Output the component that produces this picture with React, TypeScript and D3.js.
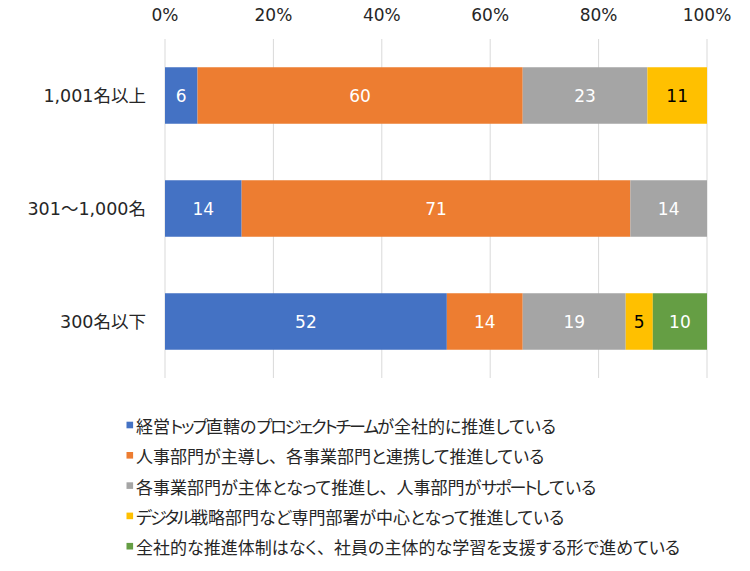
import React from "react";
import * as d3 from "d3";

const categories = ["1,001名以上", "301～1,000名", "300名以下"];
const seriesNames = [
  "経営トップ直轄のプロジェクトチームが全社的に推進している",
  "人事部門が主導し、各事業部門と連携して推進している",
  "各事業部門が主体となって推進し、人事部門がサポートしている",
  "デジタル戦略部門など専門部署が中心となって推進している",
  "全社的な推進体制はなく、社員の主体的な学習を支援する形で進めている",
];
const s1 = [6, 14, 52];
const s2 = [60, 71, 14];
const s3 = [23, 14, 19];
const s4 = [11, 0, 5];
const s5 = [0, 0, 10];
const seriesValues = [s1, s2, s3, s4, s5];
const colors = ["#4472C4", "#ED7D31", "#A5A5A5", "#FFC000", "#659E44"];
const labelColors = ["#fff", "#fff", "#fff", "#000", "#fff"];
const ticks = [0, 0.2, 0.4, 0.6, 0.8, 1];

const W = 750;
const H = 571;
const CJK = "'Noto Sans CJK JP', 'Noto Sans', sans-serif";
const MIXED = "'DejaVu Sans', 'Noto Sans CJK JP', sans-serif";

// split a legend string into katakana / punctuation / other runs for spacing
function runs(s: string) {
  const out: { t: string; k: string }[] = [];
  const re = /([\u30A0-\u30FF]+)|([、。])|([^\u30A0-\u30FF、。]+)/g;
  let m: RegExpExecArray | null;
  while ((m = re.exec(s))) {
    out.push({ t: m[0], k: m[1] ? "kata" : m[2] ? "punct" : "other" });
  }
  return out;
}

export default function App() {
  const rows = categories.map((c, i) => {
    const r: any = { cat: c };
    seriesNames.forEach((s, j) => (r[s] = seriesValues[j][i]));
    return r;
  });
  const stack = d3.stack<any>().keys(seriesNames).offset(d3.stackOffsetExpand);
  const stacked = stack(rows);

  const x = d3.scaleLinear().domain([0, 1]).range([165, 707]);
  const y = d3.scaleBand().domain(categories).range([39, 378]).paddingInner(0.5).paddingOuter(0.25);

  return (
    <svg width={W} height={H} style={{ position: "absolute", left: 0, top: 0 }} fontFamily={CJK}>
      <rect width={W} height={H} fill="#fff" />
      {ticks.map((t) => (
        <g key={t}>
          <line x1={x(t)} x2={x(t)} y1={39} y2={378} stroke="#D9D9D9" strokeWidth={1} />
          <text x={x(t)} y={15} textAnchor="middle" dominantBaseline="central" fontSize={17} fill="#262626" fontFamily={MIXED}>
            {d3.format(".0%")(t)}
          </text>
        </g>
      ))}
      {stacked.map((layer, j) => (
        <g key={j}>
          {layer.map((d, i) => {
            const v = seriesValues[j][i];
            if (!v) return null;
            const x0 = x(d[0]);
            const x1 = x(d[1]);
            const yy = y(categories[i])!;
            return (
              <g key={i}>
                <rect x={x0} y={yy} width={x1 - x0} height={y.bandwidth()} fill={colors[j]} />
                <text
                  x={(x0 + x1) / 2}
                  y={yy + y.bandwidth() / 2}
                  textAnchor="middle"
                  dominantBaseline="central"
                  fontSize={17}
                  fontFamily={MIXED}
                  fill={labelColors[j]}
                >
                  {v}
                </text>
              </g>
            );
          })}
        </g>
      ))}
      {categories.map((c) => (
        <text
          key={c}
          x={146}
          y={y(c)! + y.bandwidth() / 2}
          textAnchor="end"
          dominantBaseline="central"
          fontSize={17.5}
          fontFamily={MIXED}
          fill="#262626"
        >
          {c}
        </text>
      ))}
      {seriesNames.map((s, j) => (
        <g key={s} transform={`translate(126.5, ${425 + j * 30.3})`}>
          <rect x={0} y={-3.3} width={6.6} height={6.6} fill={colors[j]} />
          <text x={9.5} y={0} dominantBaseline="central" fontSize={17} fill="#262626">
            {runs(s).map((r, k) => (
              <tspan
                key={k}
                style={{
                  fontFeatureSettings: r.k === "punct" ? "normal" : "'palt'",
                  letterSpacing: r.k === "kata" ? "-2px" : "0px",
                }}
              >
                {r.t}
              </tspan>
            ))}
          </text>
        </g>
      ))}
    </svg>
  );
}
